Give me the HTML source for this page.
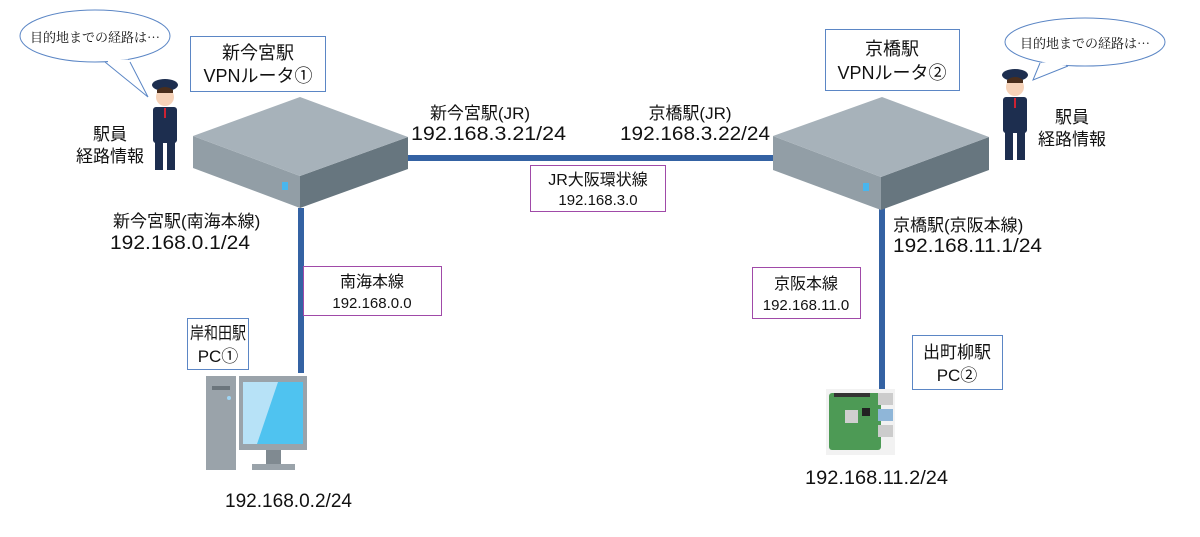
<!DOCTYPE html>
<html><head><meta charset="utf-8"><style>
body{margin:0;background:#fff;}
svg text{font-family:"Liberation Sans","Noto Sans CJK JP",sans-serif;fill:#111;}
</style></head><body>
<svg width="1200" height="532" viewBox="0 0 1200 532" xmlns="http://www.w3.org/2000/svg">
<!-- lines -->
<rect x="408" y="155" width="366" height="6" fill="#3462a3"/>
<rect x="298" y="208" width="6" height="165" fill="#3462a3"/>
<rect x="879" y="208" width="6" height="185" fill="#3462a3"/>
<!-- left router -->
<polygon points="193,136 300,176 300,208 193,168" fill="#929ea6"/>
<polygon points="300,176 408,137 408,169 300,208" fill="#67767f"/>
<polygon points="300,97 408,137 300,176 193,136" fill="#a7b2ba"/>
<rect x="282" y="182" width="6" height="8" fill="#49b6ee"/>
<!-- right router -->
<polygon points="773,136 881,177 881,210 773,170" fill="#929ea6"/>
<polygon points="881,177 989,137 989,170 881,210" fill="#67767f"/>
<polygon points="882,97 989,137 881,177 773,136" fill="#a7b2ba"/>
<rect x="863" y="183" width="6" height="8" fill="#49b6ee"/>
<!-- router boxes -->
<rect x="190.5" y="36.5" width="135" height="55" fill="#fff" stroke="#5b86c5"/>
<text x="258" y="59" font-size="18" text-anchor="middle">新今宮駅</text>
<text x="258" y="82" font-size="18" text-anchor="middle">VPNルータ①</text>
<rect x="825.5" y="29.5" width="134" height="61" fill="#fff" stroke="#5b86c5"/>
<text x="892" y="55" font-size="18" text-anchor="middle">京橋駅</text>
<text x="892" y="79" font-size="18" text-anchor="middle">VPNルータ②</text>
<!-- magenta boxes -->
<rect x="530.5" y="165.5" width="135" height="46" fill="#fff" stroke="#a04aa8"/>
<text x="598" y="185" font-size="16" text-anchor="middle">JR大阪環状線</text>
<text x="598" y="205" font-size="15" text-anchor="middle">192.168.3.0</text>
<rect x="303.5" y="266.5" width="138" height="49" fill="#fff" stroke="#a04aa8"/>
<text x="372" y="287" font-size="16" text-anchor="middle">南海本線</text>
<text x="372" y="308" font-size="15" text-anchor="middle">192.168.0.0</text>
<rect x="752.5" y="267.5" width="108" height="51" fill="#fff" stroke="#a04aa8"/>
<text x="806" y="289" font-size="16" text-anchor="middle">京阪本線</text>
<text x="806" y="310" font-size="15" text-anchor="middle">192.168.11.0</text>
<!-- PC boxes -->
<rect x="187.5" y="318.5" width="61" height="51" fill="#fff" stroke="#5b86c5"/>
<text x="190" y="339" font-size="17" textLength="56" lengthAdjust="spacingAndGlyphs">岸和田駅</text>
<text x="218" y="362" font-size="17" text-anchor="middle">PC①</text>
<rect x="912.5" y="335.5" width="90" height="54" fill="#fff" stroke="#5b86c5"/>
<text x="957" y="358" font-size="17" text-anchor="middle">出町柳駅</text>
<text x="957" y="381" font-size="17" text-anchor="middle">PC②</text>
<!-- PC icon -->
<rect x="206" y="376" width="30" height="94" fill="#9aa3aa"/>
<rect x="212" y="386" width="18" height="4" fill="#6b757c"/>
<circle cx="229" cy="398" r="2" fill="#9fd6f5"/>
<rect x="239" y="376" width="68" height="74" fill="#9aa3aa"/>
<rect x="243" y="382" width="60" height="62" fill="#4fc3f0"/>
<polygon points="243,382 278,382 257,444 243,444" fill="#b7e2f7"/>
<rect x="266" y="450" width="15" height="14" fill="#808a91"/>
<rect x="252" y="464" width="43" height="6" fill="#9aa3aa"/>
<!-- Raspberry pi -->
<rect x="826" y="389" width="69" height="66" fill="#f2f2f2"/>
<rect x="829" y="393" width="52" height="57" rx="3" fill="#4d9a55"/>
<rect x="834" y="393" width="36" height="4" fill="#333"/>
<rect x="845" y="410" width="13" height="13" fill="#cfcfcf"/>
<rect x="862" y="408" width="8" height="8" fill="#222"/>
<rect x="878" y="393" width="15" height="12" fill="#ccc"/>
<rect x="878" y="409" width="15" height="12" fill="#8fb6d8"/>
<rect x="878" y="425" width="15" height="12" fill="#ccc"/>
<!-- IP labels -->
<g font-size="19">
<text x="480" y="119" font-size="17" text-anchor="middle">新今宮駅(JR)</text>
<text x="411" y="140" textLength="155" lengthAdjust="spacingAndGlyphs">192.168.3.21/24</text>
<text x="690" y="119" font-size="17" text-anchor="middle">京橋駅(JR)</text>
<text x="620" y="140" textLength="150" lengthAdjust="spacingAndGlyphs">192.168.3.22/24</text>
<text x="113" y="227" font-size="17">新今宮駅(南海本線)</text>
<text x="110" y="249" textLength="140" lengthAdjust="spacingAndGlyphs">192.168.0.1/24</text>
<text x="893" y="231" font-size="17">京橋駅(京阪本線)</text>
<text x="893" y="252" textLength="149" lengthAdjust="spacingAndGlyphs">192.168.11.1/24</text>
<text x="225" y="507" textLength="127" lengthAdjust="spacingAndGlyphs">192.168.0.2/24</text>
<text x="805" y="484" textLength="143" lengthAdjust="spacingAndGlyphs">192.168.11.2/24</text>
</g>
<!-- bubbles -->
<path d="M105,62 L148,97 L130,62" fill="#fff" stroke="#5b86c5"/>
<ellipse cx="95" cy="36" rx="75" ry="26" fill="#fff" stroke="#5b86c5"/>
<path d="M108,62 L128,61" stroke="#fff" stroke-width="3"/>
<text x="95" y="42" font-size="13" text-anchor="middle" style="font-family:'Noto Serif CJK SC',serif">目的地までの経路は…</text>
<path d="M1040,63 L1033,80 L1068,66" fill="#fff" stroke="#5b86c5"/>
<ellipse cx="1085" cy="42" rx="80" ry="24" fill="#fff" stroke="#5b86c5"/>
<path d="M1042,64 L1066,64" stroke="#fff" stroke-width="3"/>
<text x="1085" y="48" font-size="13" text-anchor="middle" style="font-family:'Noto Serif CJK SC',serif">目的地までの経路は…</text>
<!-- persons -->
<g id="p">
<ellipse cx="165" cy="85" rx="13" ry="6" fill="#1d2e4f"/>
<circle cx="165" cy="97" r="9" fill="#f6d2b8"/>
<path d="M157,90 q8,-6 16,0 v3 h-16z" fill="#4a2e1c"/>
<rect x="153" y="107" width="24" height="36" rx="3" fill="#1d2e4f"/>
<rect x="164" y="108" width="2" height="10" fill="#c23"/>
<rect x="155" y="142" width="8" height="28" fill="#1d2e4f"/>
<rect x="167" y="142" width="8" height="28" fill="#1d2e4f"/>
</g>
<use href="#p" transform="translate(850,-10)"/>
<text x="110" y="140" font-size="17" text-anchor="middle">駅員</text>
<text x="110" y="162" font-size="17" text-anchor="middle">経路情報</text>
<text x="1072" y="123" font-size="17" text-anchor="middle">駅員</text>
<text x="1072" y="145" font-size="17" text-anchor="middle">経路情報</text>
</svg>
</body></html>
